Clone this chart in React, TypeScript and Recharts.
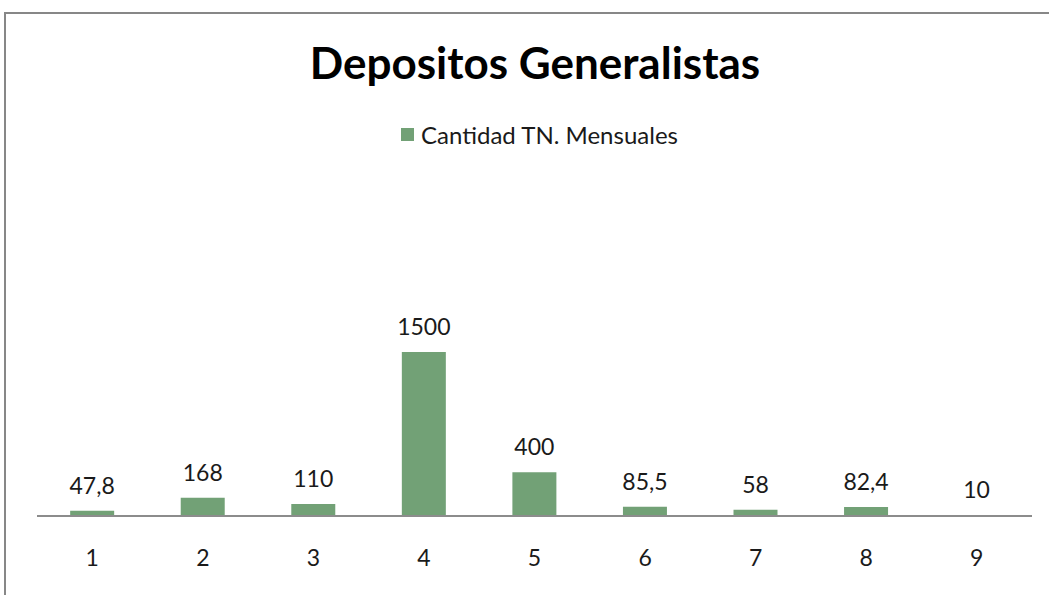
import React from "react";
import { BarChart, Bar, XAxis, YAxis, LabelList, Legend } from "recharts";

const categories = ["1", "2", "3", "4", "5", "6", "7", "8", "9"];
const cantidad = [47.8, 168, 110, 1500, 400, 85.5, 58, 82.4, 10];
const seriesName = "Cantidad TN. Mensuales";
const title = "Depositos Generalistas";

const data = categories.map((c, i) => ({ name: c, value: cantidad[i] }));

const FONT = "Lato, 'Open Sans', sans-serif";
const GREEN = "#72A176";

const fmt = (v: any) => String(v).replace(".", ",");

const LegendContent = () => (
  <div style={{ display: "flex", justifyContent: "center", alignItems: "center", fontFamily: FONT, fontSize: 24, color: "#1a1a1a" }}>
    <span style={{ display: "inline-block", width: 13, height: 13, background: GREEN, marginRight: 7 }} />
    <span>{seriesName}</span>
  </div>
);

export default function App() {
  return (
    <div style={{ position: "absolute", left: 0, top: 0, width: 1049, height: 595, background: "#fff", overflow: "hidden" }}>
      <div style={{ position: "absolute", left: 4, top: 12, width: 1100, height: 700, border: "2px solid #878787", boxSizing: "border-box" }} />
      <div style={{ position: "absolute", left: 0, top: 36, width: 1070, textAlign: "center", fontFamily: FONT, fontWeight: 700, fontSize: 44, color: "#000" }}>
        {title}
      </div>
      <div style={{ position: "absolute", left: 0, top: 0 }}>
        <BarChart width={1049} height={595} data={data} margin={{ top: 341, right: 17, bottom: 19, left: 37 }} barCategoryGap="30%">
          <XAxis
            dataKey="name"
            height={60}
            tickLine={false}
            axisLine={{ stroke: "#8c8c8c", strokeWidth: 2 }}
            tick={{ fill: "#1a1a1a", fontSize: 23, fontFamily: FONT }}
            tickMargin={28}
          />
          <YAxis hide domain={[0, 1600]} />
          <Legend
            verticalAlign="middle"
            align="center"
            layout="horizontal"
            content={<LegendContent />}
            wrapperStyle={{ position: "absolute", top: 120, left: 0, width: 1079 }}
          />
          <Bar dataKey="value" name={seriesName} fill={GREEN} isAnimationActive={false}>
            <LabelList dataKey="value" position="top" offset={17} formatter={fmt} style={{ fill: "#1a1a1a", fontSize: 23, fontFamily: FONT }} />
          </Bar>
        </BarChart>
      </div>
    </div>
  );
}
